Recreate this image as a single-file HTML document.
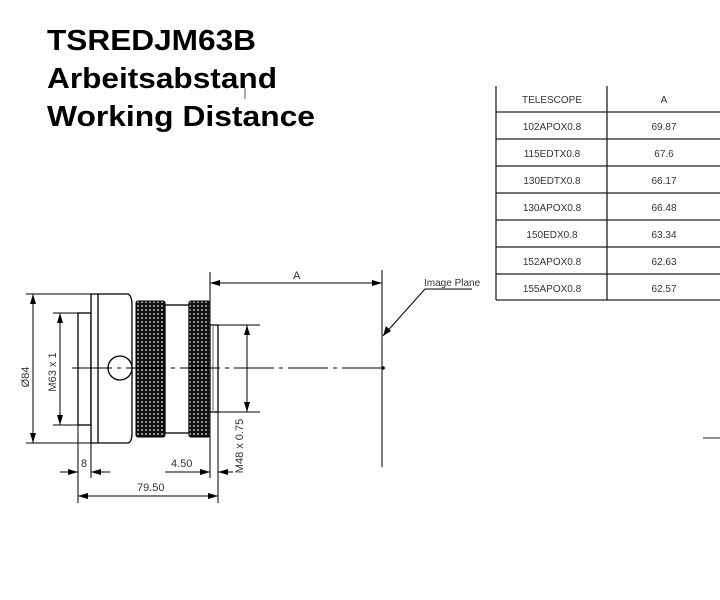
<!DOCTYPE html>
<html><head><meta charset="utf-8"><style>html,body{margin:0;padding:0;background:#fff}svg{display:block}</style></head>
<body>
<svg width="720" height="600" viewBox="0 0 720 600" xmlns="http://www.w3.org/2000/svg">
<defs>
<pattern id="kn" width="4" height="4" patternUnits="userSpaceOnUse">
<rect width="4" height="4" fill="#111"/>
<circle cx="2" cy="2" r="1" fill="#bbb"/>
</pattern>
<marker id="ar" viewBox="0 0 10 6" refX="10" refY="3" markerWidth="10" markerHeight="6" orient="auto-start-reverse" markerUnits="userSpaceOnUse">
<path d="M0,0 L10,3 L0,6 z" fill="#000"/>
</marker>
</defs>
<g font-family="Liberation Sans, sans-serif" font-weight="bold" font-size="29" fill="#000">
<text x="47" y="50" textLength="209" lengthAdjust="spacingAndGlyphs">TSREDJM63B</text>
<text x="47" y="88" textLength="230" lengthAdjust="spacingAndGlyphs">Arbeitsabstand</text>
<text x="47" y="126" textLength="268" lengthAdjust="spacingAndGlyphs">Working Distance</text>
</g>
<line x1="245" y1="88" x2="245" y2="99" stroke="#555" stroke-width="1"/>

<!-- table -->
<g stroke="#222" stroke-width="1.3" fill="none">
<line x1="496" y1="86" x2="496" y2="300"/>
<line x1="607" y1="86" x2="607" y2="300"/>
<line x1="496" y1="112" x2="720" y2="112"/>
<line x1="496" y1="139" x2="720" y2="139"/>
<line x1="496" y1="166" x2="720" y2="166"/>
<line x1="496" y1="193" x2="720" y2="193"/>
<line x1="496" y1="220" x2="720" y2="220"/>
<line x1="496" y1="247" x2="720" y2="247"/>
<line x1="496" y1="274" x2="720" y2="274"/>
<line x1="496" y1="300" x2="720" y2="300"/>
</g>
<g font-family="Liberation Sans Narrow, Liberation Sans, sans-serif" font-size="10" fill="#333" text-anchor="middle">
<text x="552" y="103">TELESCOPE</text><text x="664" y="103">A</text>
<text x="552" y="130">102APOX0.8</text><text x="664" y="130">69.87</text>
<text x="552" y="157">115EDTX0.8</text><text x="664" y="157">67.6</text>
<text x="552" y="184">130EDTX0.8</text><text x="664" y="184">66.17</text>
<text x="552" y="211">130APOX0.8</text><text x="664" y="211">66.48</text>
<text x="552" y="238">150EDX0.8</text><text x="664" y="238">63.34</text>
<text x="552" y="265">152APOX0.8</text><text x="664" y="265">62.63</text>
<text x="552" y="292">155APOX0.8</text><text x="664" y="292">62.57</text>
</g>
<line x1="703" y1="438" x2="720" y2="438" stroke="#222" stroke-width="1"/>

<!-- part -->
<g stroke="#000" stroke-width="1.3" fill="#fff">
<rect x="78" y="313" width="13" height="112"/>
<path d="M91,294 H128 Q132,296 132,305 V433 Q132,442 128,443 H91 Z"/>
<line x1="98" y1="294" x2="98" y2="443"/>
<rect x="165" y="305" width="24" height="128"/>
<rect x="210" y="325" width="8" height="87"/>
<line x1="213" y1="325" x2="213" y2="412" stroke="#888"/>
</g>
<rect x="136" y="301" width="29" height="136" rx="2" fill="url(#kn)" stroke="#000"/>
<rect x="189" y="301" width="21" height="136" rx="2" fill="url(#kn)" stroke="#000"/>
<circle cx="120" cy="368" r="12" fill="#fff" stroke="#000" stroke-width="1.3"/>
<line x1="72" y1="368" x2="383" y2="368" stroke="#000" stroke-width="1" stroke-dasharray="40,5,4,5"/>
<circle cx="383" cy="368" r="1.8" fill="#000"/>

<!-- dims -->
<g stroke="#000" stroke-width="1" fill="none">
<line x1="26" y1="294" x2="91" y2="294"/>
<line x1="26" y1="443" x2="91" y2="443"/>
<line x1="33" y1="294" x2="33" y2="443" marker-start="url(#ar)" marker-end="url(#ar)"/>
<line x1="53" y1="313" x2="78" y2="313"/>
<line x1="53" y1="425" x2="78" y2="425"/>
<line x1="60" y1="313" x2="60" y2="425" marker-start="url(#ar)" marker-end="url(#ar)"/>
<line x1="218" y1="325" x2="260" y2="325"/>
<line x1="218" y1="412" x2="260" y2="412"/>
<line x1="247" y1="325" x2="247" y2="412" marker-start="url(#ar)" marker-end="url(#ar)"/>
<line x1="78" y1="425" x2="78" y2="503"/>
<line x1="91" y1="443" x2="91" y2="478"/>
<line x1="60" y1="472" x2="78" y2="472" marker-end="url(#ar)"/>
<line x1="110" y1="472" x2="91" y2="472" marker-end="url(#ar)"/>
<line x1="165" y1="472" x2="210" y2="472" marker-end="url(#ar)"/>
<line x1="233" y1="472" x2="218" y2="472" marker-end="url(#ar)"/>
<line x1="210" y1="272" x2="210" y2="478"/>
<line x1="218" y1="412" x2="218" y2="503"/>
<line x1="78" y1="496" x2="218" y2="496" marker-start="url(#ar)" marker-end="url(#ar)"/>
<line x1="210" y1="283" x2="382" y2="283" marker-start="url(#ar)" marker-end="url(#ar)"/>
<line x1="382" y1="270" x2="382" y2="467"/>
<polyline points="472,289 425,289 383,336"/>
</g>
<path d="M383,336 L386,326 L391,331 z" fill="#000"/>
<g font-family="Liberation Sans Narrow, Liberation Sans, sans-serif" font-size="11" fill="#333">
<text x="293" y="279">A</text>
<text x="424" y="286" font-size="10">Image Plane</text>
<text x="81" y="467">8</text>
<text x="171" y="467">4.50</text>
<text x="137" y="491">79.50</text>
<text transform="translate(29,377) rotate(-90)" text-anchor="middle">Ø84</text>
<text transform="translate(56,372) rotate(-90)" text-anchor="middle">M63 x 1</text>
<text transform="translate(243,446) rotate(-90)" text-anchor="middle">M48 x 0.75</text>
</g>
</svg>
</body></html>
